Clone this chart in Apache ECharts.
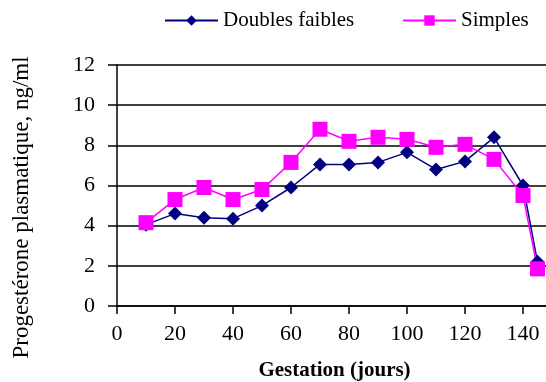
<!DOCTYPE html>
<html><head><meta charset="utf-8">
<script src="https://cdn.jsdelivr.net/npm/echarts@6/dist/echarts.min.js"></script>
<style>html,body{margin:0;padding:0;background:#fff;overflow:hidden;width:546px;height:382px}#c{width:552px;height:382px}</style>
</head><body><div id="c"></div>
<script>
const days = [10, 20, 30, 40, 50, 60, 70, 80, 90, 100, 110, 120, 130, 140, 145];
const doublesFaibles = [4.05, 4.6, 4.4, 4.35, 5.0, 5.9, 7.05, 7.05, 7.15, 7.65, 6.8, 7.2, 8.4, 6.0, 2.2];
const simples = [4.15, 5.3, 5.9, 5.3, 5.8, 7.15, 8.8, 8.2, 8.4, 8.3, 7.9, 8.05, 7.3, 5.5, 1.85];
const seriesNames = ['Doubles faibles', 'Simples'];
const xTitle = 'Gestation (jours)';
const yTitle = 'Progestérone plasmatique, ng/ml';

const F = 'Liberation Serif';
const chart = echarts.init(document.getElementById('c'), null, {renderer: 'canvas'});
const pair = arr => days.map((d, i) => [d, arr[i]]);
chart.setOption({
  animation: false,
  backgroundColor: '#fff',
  grid: {left: 117, right: 0, top: 65, bottom: 76, containLabel: false, outerBoundsMode: 'none'},
  legend: [
    {data: [seriesNames[0]], left: 164, top: 10, padding: 0, itemWidth: 53, itemHeight: 13, itemGap: 4,
     textStyle: {fontFamily: F, fontSize: 21, color: '#000'}},
    {data: [seriesNames[1]], left: 402, top: 10, padding: 0, itemWidth: 53, itemHeight: 13, itemGap: 4,
     textStyle: {fontFamily: F, fontSize: 21, color: '#000'}}
  ],
  xAxis: {
    type: 'value', min: 0, max: 150, interval: 20,
    name: xTitle, nameLocation: 'middle', nameGap: 54,
    nameTextStyle: {fontFamily: F, fontSize: 21, fontWeight: 'bold', color: '#000'},
    axisLine: {show: true, onZero: false, lineStyle: {color: '#000', width: 1.5}},
    axisTick: {show: true, inside: false, length: 8, lineStyle: {color: '#000', width: 1.5}},
    axisLabel: {fontFamily: F, fontSize: 22, color: '#000', margin: 17},
    splitLine: {show: false}
  },
  yAxis: {
    type: 'value', min: 0, max: 12, interval: 2,
    name: yTitle, nameLocation: 'middle', nameGap: 84, nameRotate: 90,
    nameTextStyle: {fontFamily: F, fontSize: 23, color: '#000', padding: [0, 44, 0, 0]},
    axisLine: {show: true, lineStyle: {color: '#000', width: 1.5}},
    axisTick: {show: true, inside: false, length: 9, lineStyle: {color: '#000', width: 1.5}},
    axisLabel: {fontFamily: F, fontSize: 22, color: '#000', margin: 22},
    splitLine: {show: true, lineStyle: {color: '#000', width: 1.5}}
  },
  series: [
    {name: seriesNames[0], type: 'line', data: pair(doublesFaibles),
     symbol: 'diamond', symbolSize: 14, color: '#000080',
     lineStyle: {color: '#000080', width: 1.5}, itemStyle: {color: '#000080'}},
    {name: seriesNames[1], type: 'line', data: pair(simples),
     symbol: 'rect', symbolSize: 15, color: '#ff00ff',
     lineStyle: {color: '#ff00ff', width: 1.5}, itemStyle: {color: '#ff00ff'}}
  ]
});
</script></body></html>
